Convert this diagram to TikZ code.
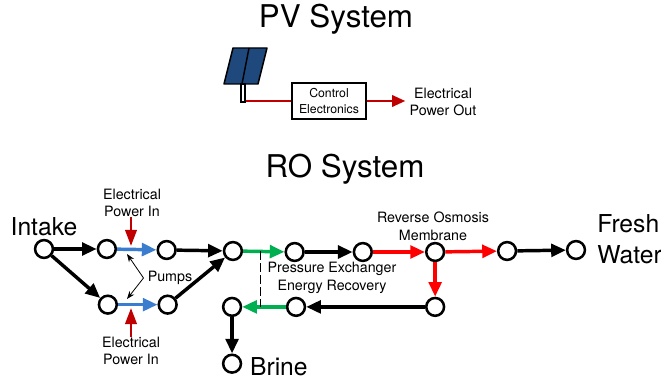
\documentclass[tikz,border=0pt]{standalone}
\usepackage{xcolor}
\usepackage{fontspec}
\setmainfont{TeX Gyre Heros}
\usepackage{tikz}
\usetikzlibrary{
    arrows.meta,
    positioning
}
\definecolor{pumpblue}{RGB}{58,125,206}
\definecolor{recgreen}{RGB}{0,176,80}
\definecolor{brinered}{RGB}{255,0,0}
\definecolor{powerred}{RGB}{192,0,0}
\definecolor{panelblue}{RGB}{31,73,125}

\begin{document}
\begin{tikzpicture}[
    x=0.75pt,
    y=-0.75pt,
    font=\fontsize{10.7}{13.2}\selectfont,
    junction/.style={
        circle,
        draw=black,
        fill=white,
        line width=1.9pt,
        inner sep=0pt,
        minimum size=4.7mm
    },
    control/.style={
        rectangle,
        draw=black,
        line width=1.6pt,
        align=center,
        font=\fontsize{9.2}{11.7}\selectfont,
        minimum height=27.5pt,
        minimum width=55.5pt
    },
    title/.style={font=\fontsize{23.5}{27}\selectfont},
    endlabel/.style={font=\fontsize{18.5}{23}\selectfont, align=left, inner sep=0pt},
    annot/.style={align=center, inner sep=0pt},
    flow/.style={-{Triangle[length=11pt,width=9.5pt]}, line width=2.6pt},
    water/.style={flow, black},
    pumped/.style={flow, pumpblue},
    recovered/.style={flow, recgreen},
    pressurized/.style={flow, brinered},
    power/.style={-{Triangle[length=12pt,width=8.5pt]}, line width=2pt, powerred},
    pointer/.style={{Stealth[length=6pt]}-{Stealth[length=6pt]}, line width=0.6pt}
]
\useasboundingbox (0,0) rectangle (661,381);

% ===== PV SYSTEM =====
\node[title] (pvtitle) at (336,19) {PV System};
\draw[line width=1.1pt, fill=panelblue, line join=round]
    (233,48) -- (267,48) -- (258,84) -- (224,84) -- cycle;
\draw[line width=1.1pt] (249,48) -- (242,84);
\node[draw=black, fill=white, line width=0.9pt, inner sep=0pt,
    minimum width=3pt, minimum height=13.5pt] (post) at (243,93) {};
\node[control] (ctrl) at (329,101) {Control\\Electronics};
\node[annot] (pvout) at (443,102) {Electrical\\Power Out};

\draw[line width=2pt, powerred] (post.east |- ctrl.west) -- (ctrl.west);
\draw[power, -{Triangle[length=10pt,width=8.5pt]}] (ctrl.east) -- ([xshift=-3pt]pvout.west |- ctrl.east);

% ===== RO SYSTEM: feed =====
\node[title] (rotitle) at (345,169) {RO System};
\node[junction] (intake) at (44,249) {};
\node[junction, right=11.2mm of intake] (pumpAin) {};
\node[junction, right=10.4mm of pumpAin, yshift=-0.75pt] (pumpAout) {};
\node[junction, below=9.3mm of pumpAin, xshift=0.75pt] (pumpBin) {};
\node[junction, right=10.4mm of pumpBin] (pumpBout) {};
\node[junction, right=12.1mm of pumpAout, yshift=-0.75pt] (mix) {};

\node[endlabel, above=2pt of intake] (intakelbl) {Intake};

\draw[water] (intake) -- (pumpAin);
\draw[water] (intake) -- (pumpBin);
\draw[pumped] (pumpAin) -- (pumpAout);
\draw[pumped] (pumpBin) -- (pumpBout);
\draw[water] (pumpAout) -- (mix);
\draw[water] (pumpBout) -- (mix);

% Pump labels
\node[annot] (powerA) at (132,203) {Electrical\\Power In};
\node[annot] (powerB) at (131,351) {Electrical\\Power In};
\node[annot] (pumps) at (170,278) {Pumps};
\coordinate (pumpAmid) at (127,254);
\coordinate (pumpBmid) at (127,299);
\coordinate (powerAtip) at (131,246);
\coordinate (powerBtip) at (131,308);

\draw[power] (powerA.south -| powerAtip) -- (powerAtip);
\draw[power] (powerB.north -| powerBtip) -- (powerBtip);
\draw[pointer] (pumpAmid) -- ([xshift=-3pt]pumps.west) -- (pumpBmid);

% ===== RO SYSTEM: high pressure =====
\node[junction, right=10.9mm of mix, yshift=-0.75pt] (pxin) {};
\node[junction, right=12.6mm of pxin] (pxout) {};
\node[junction, right=13.7mm of pxout] (memb) {};
\node[junction, right=13.6mm of memb, yshift=0.75pt] (permeate) {};
\node[junction, right=12.8mm of permeate, yshift=0.75pt] (fresh) {};
\node[junction, below=9.1mm of memb] (conc) {};
\node[junction, left=31.3mm of conc] (pxret) {};
\node[junction, left=11.5mm of pxret] (reject) {};
\node[junction, below=9.6mm of reject] (brine) {};

\draw[recovered] (mix) -- coordinate[pos=0.41] (pxtop) (pxin);
\draw[water] (pxin) -- (pxout);
\draw[pressurized] (pxout) -- (memb);
\draw[pressurized] (memb) -- (permeate);
\draw[water] (permeate) -- (fresh);
\draw[pressurized] (memb) -- (conc);
\draw[water] (conc) -- (pxret);
\draw[recovered] (pxret) -- (reject);
\draw[water] (reject) -- (brine);
\draw[dash pattern=on 6.5pt off 2.5pt, line width=0.7pt] (pxtop) -- (pxtop |- reject);

% Process labels
\node[annot] (memblbl) at (433,226) {Reverse Osmosis\\Membrane};
\node[annot] (pxlbl) at (332,278) {Pressure Exchanger\\Energy Recovery};
\node[endlabel, anchor=west] (freshlbl) at (597,239) {Fresh\\Water};
\node[endlabel, right=2mm of brine, yshift=-2pt] (brinelbl) {Brine};

\end{tikzpicture}
\end{document}
